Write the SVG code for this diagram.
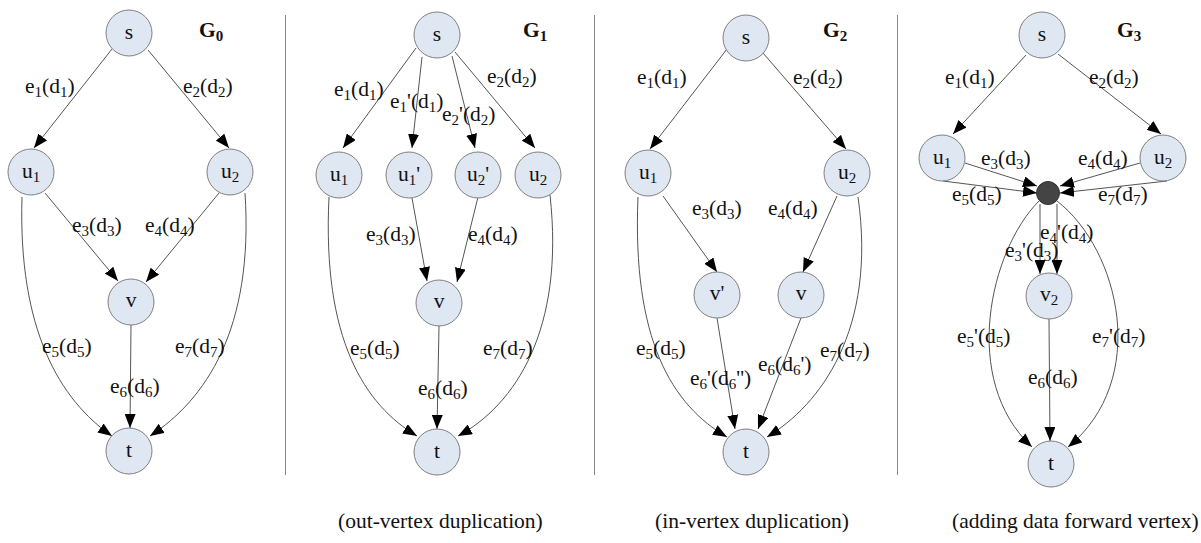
<svg xmlns="http://www.w3.org/2000/svg" width="1201" height="543" viewBox="0 0 1201 543">
<style>
text{font-family:"Liberation Serif","Times New Roman",serif;font-size:21.5px;fill:#111}
.n circle{fill:#dfe7f3;stroke:#7f7f7f;stroke-width:1}
.n text{text-anchor:middle}
.sb{font-size:15px}
.ttl{font-weight:bold}
.e path,.e line{fill:none;stroke:#555;stroke-width:1;marker-end:url(#ah)}
.sep{stroke:#888;stroke-width:1}
</style>
<defs>
<marker id="ah" markerUnits="userSpaceOnUse" markerWidth="14" markerHeight="11" refX="14" refY="5.5" orient="auto">
<path d="M0,0 L14,5.5 L0,11 z" fill="#000"/>
</marker>
</defs>
<rect width="1201" height="543" fill="#fff"/>
<g id="separators">
<line class="sep" x1="285.5" y1="15" x2="285.5" y2="475"/>
<line class="sep" x1="594.5" y1="15" x2="594.5" y2="475"/>
<line class="sep" x1="897.5" y1="15" x2="897.5" y2="475"/>
</g>
<g id="connectors" class="e">
<!-- G0 -->
<line x1="112" y1="49" x2="34" y2="148"/>
<line x1="148" y1="50" x2="229" y2="148"/>
<line x1="45" y1="193" x2="118" y2="281"/>
<line x1="219" y1="193" x2="146" y2="282"/>
<path d="M22,197 C18,330 60,400 112,436"/>
<path d="M245,193 C254,330 205,400 150,436"/>
<line x1="131" y1="325" x2="130" y2="428"/>
<!-- G1 -->
<line x1="416" y1="48" x2="343" y2="148"/>
<line x1="422" y1="57" x2="412" y2="148"/>
<line x1="452" y1="56" x2="475" y2="148"/>
<line x1="455" y1="52" x2="535" y2="148"/>
<line x1="412" y1="198" x2="427" y2="281"/>
<line x1="478" y1="197" x2="457" y2="282"/>
<path d="M329,197 C322,340 365,405 417,436"/>
<path d="M550,195 C565,330 515,405 458,436"/>
<line x1="439" y1="326" x2="437" y2="429"/>
<!-- G2 -->
<line x1="727" y1="49" x2="650" y2="149"/>
<line x1="763" y1="53" x2="846" y2="149"/>
<line x1="663" y1="196" x2="717" y2="272"/>
<line x1="837" y1="196" x2="803" y2="272"/>
<path d="M638,197 C632,340 672,405 727,437"/>
<path d="M858,197 C877,330 820,405 767,437"/>
<line x1="717" y1="318" x2="735" y2="429"/>
<line x1="801" y1="318" x2="758" y2="429"/>
<!-- G3 -->
<line x1="1026" y1="55" x2="953" y2="134"/>
<line x1="1058" y1="54" x2="1161" y2="134"/>
<line x1="965" y1="163" x2="1037" y2="186"/>
<line x1="943" y1="181" x2="1037" y2="193"/>
<line x1="1140" y1="163" x2="1060" y2="186"/>
<line x1="1167" y1="181" x2="1060" y2="193"/>
<line x1="1040" y1="204" x2="1040" y2="274"/>
<line x1="1057" y1="204" x2="1057" y2="274"/>
<path d="M1039,201 C990,250 960,380 1032,447"/>
<path d="M1057,201 C1120,250 1150,380 1068,447"/>
<line x1="1049" y1="319" x2="1050" y2="441"/>
</g>
<g id="labels">
<!-- G0 -->
<text x="25" y="93">e<tspan class="sb" dy="4">1</tspan><tspan dy="-4">(d</tspan><tspan class="sb" dy="4">1</tspan><tspan dy="-4">)</tspan></text>
<text x="183" y="93">e<tspan class="sb" dy="4">2</tspan><tspan dy="-4">(d</tspan><tspan class="sb" dy="4">2</tspan><tspan dy="-4">)</tspan></text>
<text x="72" y="232">e<tspan class="sb" dy="4">3</tspan><tspan dy="-4">(d</tspan><tspan class="sb" dy="4">3</tspan><tspan dy="-4">)</tspan></text>
<text x="145" y="232">e<tspan class="sb" dy="4">4</tspan><tspan dy="-4">(d</tspan><tspan class="sb" dy="4">4</tspan><tspan dy="-4">)</tspan></text>
<text x="42" y="353">e<tspan class="sb" dy="4">5</tspan><tspan dy="-4">(d</tspan><tspan class="sb" dy="4">5</tspan><tspan dy="-4">)</tspan></text>
<text x="175" y="353">e<tspan class="sb" dy="4">7</tspan><tspan dy="-4">(d</tspan><tspan class="sb" dy="4">7</tspan><tspan dy="-4">)</tspan></text>
<text x="110" y="393">e<tspan class="sb" dy="4">6</tspan><tspan dy="-4">(d</tspan><tspan class="sb" dy="4">6</tspan><tspan dy="-4">)</tspan></text>
<text class="ttl" x="199" y="37">G<tspan class="sb" dy="4">0</tspan></text>
<!-- G1 -->
<text x="334" y="96">e<tspan class="sb" dy="4">1</tspan><tspan dy="-4">(d</tspan><tspan class="sb" dy="4">1</tspan><tspan dy="-4">)</tspan></text>
<text x="390" y="108">e<tspan class="sb" dy="4">1</tspan><tspan dy="-4">'(d</tspan><tspan class="sb" dy="4">1</tspan><tspan dy="-4">)</tspan></text>
<text x="442" y="121">e<tspan class="sb" dy="4">2</tspan><tspan dy="-4">'(d</tspan><tspan class="sb" dy="4">2</tspan><tspan dy="-4">)</tspan></text>
<text x="487" y="83">e<tspan class="sb" dy="4">2</tspan><tspan dy="-4">(d</tspan><tspan class="sb" dy="4">2</tspan><tspan dy="-4">)</tspan></text>
<text x="366" y="241">e<tspan class="sb" dy="4">3</tspan><tspan dy="-4">(d</tspan><tspan class="sb" dy="4">3</tspan><tspan dy="-4">)</tspan></text>
<text x="468" y="241">e<tspan class="sb" dy="4">4</tspan><tspan dy="-4">(d</tspan><tspan class="sb" dy="4">4</tspan><tspan dy="-4">)</tspan></text>
<text x="350" y="355">e<tspan class="sb" dy="4">5</tspan><tspan dy="-4">(d</tspan><tspan class="sb" dy="4">5</tspan><tspan dy="-4">)</tspan></text>
<text x="483" y="355">e<tspan class="sb" dy="4">7</tspan><tspan dy="-4">(d</tspan><tspan class="sb" dy="4">7</tspan><tspan dy="-4">)</tspan></text>
<text x="418" y="395">e<tspan class="sb" dy="4">6</tspan><tspan dy="-4">(d</tspan><tspan class="sb" dy="4">6</tspan><tspan dy="-4">)</tspan></text>
<text class="ttl" x="523" y="37">G<tspan class="sb" dy="4">1</tspan></text>
<!-- G2 -->
<text x="637" y="84">e<tspan class="sb" dy="4">1</tspan><tspan dy="-4">(d</tspan><tspan class="sb" dy="4">1</tspan><tspan dy="-4">)</tspan></text>
<text x="793" y="84">e<tspan class="sb" dy="4">2</tspan><tspan dy="-4">(d</tspan><tspan class="sb" dy="4">2</tspan><tspan dy="-4">)</tspan></text>
<text x="692" y="215">e<tspan class="sb" dy="4">3</tspan><tspan dy="-4">(d</tspan><tspan class="sb" dy="4">3</tspan><tspan dy="-4">)</tspan></text>
<text x="768" y="215">e<tspan class="sb" dy="4">4</tspan><tspan dy="-4">(d</tspan><tspan class="sb" dy="4">4</tspan><tspan dy="-4">)</tspan></text>
<text x="636" y="355">e<tspan class="sb" dy="4">5</tspan><tspan dy="-4">(d</tspan><tspan class="sb" dy="4">5</tspan><tspan dy="-4">)</tspan></text>
<text x="820" y="357">e<tspan class="sb" dy="4">7</tspan><tspan dy="-4">(d</tspan><tspan class="sb" dy="4">7</tspan><tspan dy="-4">)</tspan></text>
<text x="690" y="385">e<tspan class="sb" dy="4">6</tspan><tspan dy="-4">'(d</tspan><tspan class="sb" dy="4">6</tspan><tspan dy="-4">'')</tspan></text>
<text x="758" y="371">e<tspan class="sb" dy="4">6</tspan><tspan dy="-4">(d</tspan><tspan class="sb" dy="4">6</tspan><tspan dy="-4">')</tspan></text>
<text class="ttl" x="823" y="37">G<tspan class="sb" dy="4">2</tspan></text>
<!-- G3 -->
<text x="945" y="84">e<tspan class="sb" dy="4">1</tspan><tspan dy="-4">(d</tspan><tspan class="sb" dy="4">1</tspan><tspan dy="-4">)</tspan></text>
<text x="1089" y="84">e<tspan class="sb" dy="4">2</tspan><tspan dy="-4">(d</tspan><tspan class="sb" dy="4">2</tspan><tspan dy="-4">)</tspan></text>
<text x="981" y="165">e<tspan class="sb" dy="4">3</tspan><tspan dy="-4">(d</tspan><tspan class="sb" dy="4">3</tspan><tspan dy="-4">)</tspan></text>
<text x="1078" y="165">e<tspan class="sb" dy="4">4</tspan><tspan dy="-4">(d</tspan><tspan class="sb" dy="4">4</tspan><tspan dy="-4">)</tspan></text>
<text x="952" y="201">e<tspan class="sb" dy="4">5</tspan><tspan dy="-4">(d</tspan><tspan class="sb" dy="4">5</tspan><tspan dy="-4">)</tspan></text>
<text x="1098" y="201">e<tspan class="sb" dy="4">7</tspan><tspan dy="-4">(d</tspan><tspan class="sb" dy="4">7</tspan><tspan dy="-4">)</tspan></text>
<text x="1040" y="239">e<tspan class="sb" dy="4">4</tspan><tspan dy="-4">'(d</tspan><tspan class="sb" dy="4">4</tspan><tspan dy="-4">)</tspan></text>
<text x="1005" y="257">e<tspan class="sb" dy="4">3</tspan><tspan dy="-4">'(d</tspan><tspan class="sb" dy="4">3</tspan><tspan dy="-4">)</tspan></text>
<text x="957" y="343">e<tspan class="sb" dy="4">5</tspan><tspan dy="-4">'(d</tspan><tspan class="sb" dy="4">5</tspan><tspan dy="-4">)</tspan></text>
<text x="1092" y="343">e<tspan class="sb" dy="4">7</tspan><tspan dy="-4">'(d</tspan><tspan class="sb" dy="4">7</tspan><tspan dy="-4">)</tspan></text>
<text x="1028" y="384">e<tspan class="sb" dy="4">6</tspan><tspan dy="-4">(d</tspan><tspan class="sb" dy="4">6</tspan><tspan dy="-4">)</tspan></text>
<text class="ttl" x="1117" y="37">G<tspan class="sb" dy="4">3</tspan></text>
<!-- captions -->
<text x="338" y="528">(out-vertex duplication)</text>
<text x="655" y="528">(in-vertex duplication)</text>
<text x="952" y="528">(adding data forward vertex)</text>
</g>
<!-- G0 nodes -->
<g id="g0-s" class="n"><circle cx="129" cy="33" r="23"/><text x="129" y="39">s</text></g>
<g id="g0-u1" class="n"><circle cx="31" cy="172" r="23"/><text x="31" y="178">u<tspan class="sb" dy="4">1</tspan></text></g>
<g id="g0-u2" class="n"><circle cx="230" cy="172" r="23"/><text x="230" y="178">u<tspan class="sb" dy="4">2</tspan></text></g>
<g id="g0-v" class="n"><circle cx="131" cy="302" r="23"/><text x="131" y="307">v</text></g>
<g id="g0-t" class="n"><circle cx="129" cy="451" r="23"/><text x="129" y="457">t</text></g>
<!-- G1 nodes -->
<g id="g1-s" class="n"><circle cx="437" cy="35" r="23"/><text x="437" y="41">s</text></g>
<g id="g1-u1" class="n"><circle cx="339" cy="175" r="23"/><text x="339" y="181">u<tspan class="sb" dy="4">1</tspan></text></g>
<g id="g1-u1p" class="n"><circle cx="409" cy="175" r="23"/><text x="409" y="181">u<tspan class="sb" dy="4">1</tspan><tspan dy="-4">'</tspan></text></g>
<g id="g1-u2p" class="n"><circle cx="478" cy="175" r="23"/><text x="478" y="181">u<tspan class="sb" dy="4">2</tspan><tspan dy="-4">'</tspan></text></g>
<g id="g1-u2" class="n"><circle cx="538" cy="175" r="23"/><text x="538" y="181">u<tspan class="sb" dy="4">2</tspan></text></g>
<g id="g1-v" class="n"><circle cx="439" cy="303" r="23"/><text x="439" y="308">v</text></g>
<g id="g1-t" class="n"><circle cx="437" cy="452" r="23"/><text x="437" y="458">t</text></g>
<!-- G2 nodes -->
<g id="g2-s" class="n"><circle cx="746" cy="38" r="23"/><text x="746" y="44">s</text></g>
<g id="g2-u1" class="n"><circle cx="648" cy="173" r="23"/><text x="648" y="179">u<tspan class="sb" dy="4">1</tspan></text></g>
<g id="g2-u2" class="n"><circle cx="847" cy="173" r="23"/><text x="847" y="179">u<tspan class="sb" dy="4">2</tspan></text></g>
<g id="g2-vp" class="n"><circle cx="717" cy="295" r="23"/><text x="717" y="300">v'</text></g>
<g id="g2-v" class="n"><circle cx="801" cy="295" r="23"/><text x="801" y="300">v</text></g>
<g id="g2-t" class="n"><circle cx="746" cy="452" r="23"/><text x="746" y="458">t</text></g>
<!-- G3 nodes -->
<g id="g3-s" class="n"><circle cx="1042" cy="35" r="23"/><text x="1042" y="41">s</text></g>
<g id="g3-u1" class="n"><circle cx="942" cy="158" r="23"/><text x="942" y="164">u<tspan class="sb" dy="4">1</tspan></text></g>
<g id="g3-u2" class="n"><circle cx="1163" cy="158" r="23"/><text x="1163" y="164">u<tspan class="sb" dy="4">2</tspan></text></g>
<g id="g3-fwd"><circle cx="1048" cy="193" r="11.5" fill="#444" stroke="#333"/></g>
<g id="g3-v2" class="n"><circle cx="1049" cy="296" r="23"/><text x="1049" y="301">v<tspan class="sb" dy="4">2</tspan></text></g>
<g id="g3-t" class="n"><circle cx="1051" cy="464" r="23"/><text x="1051" y="470">t</text></g>
</svg>
